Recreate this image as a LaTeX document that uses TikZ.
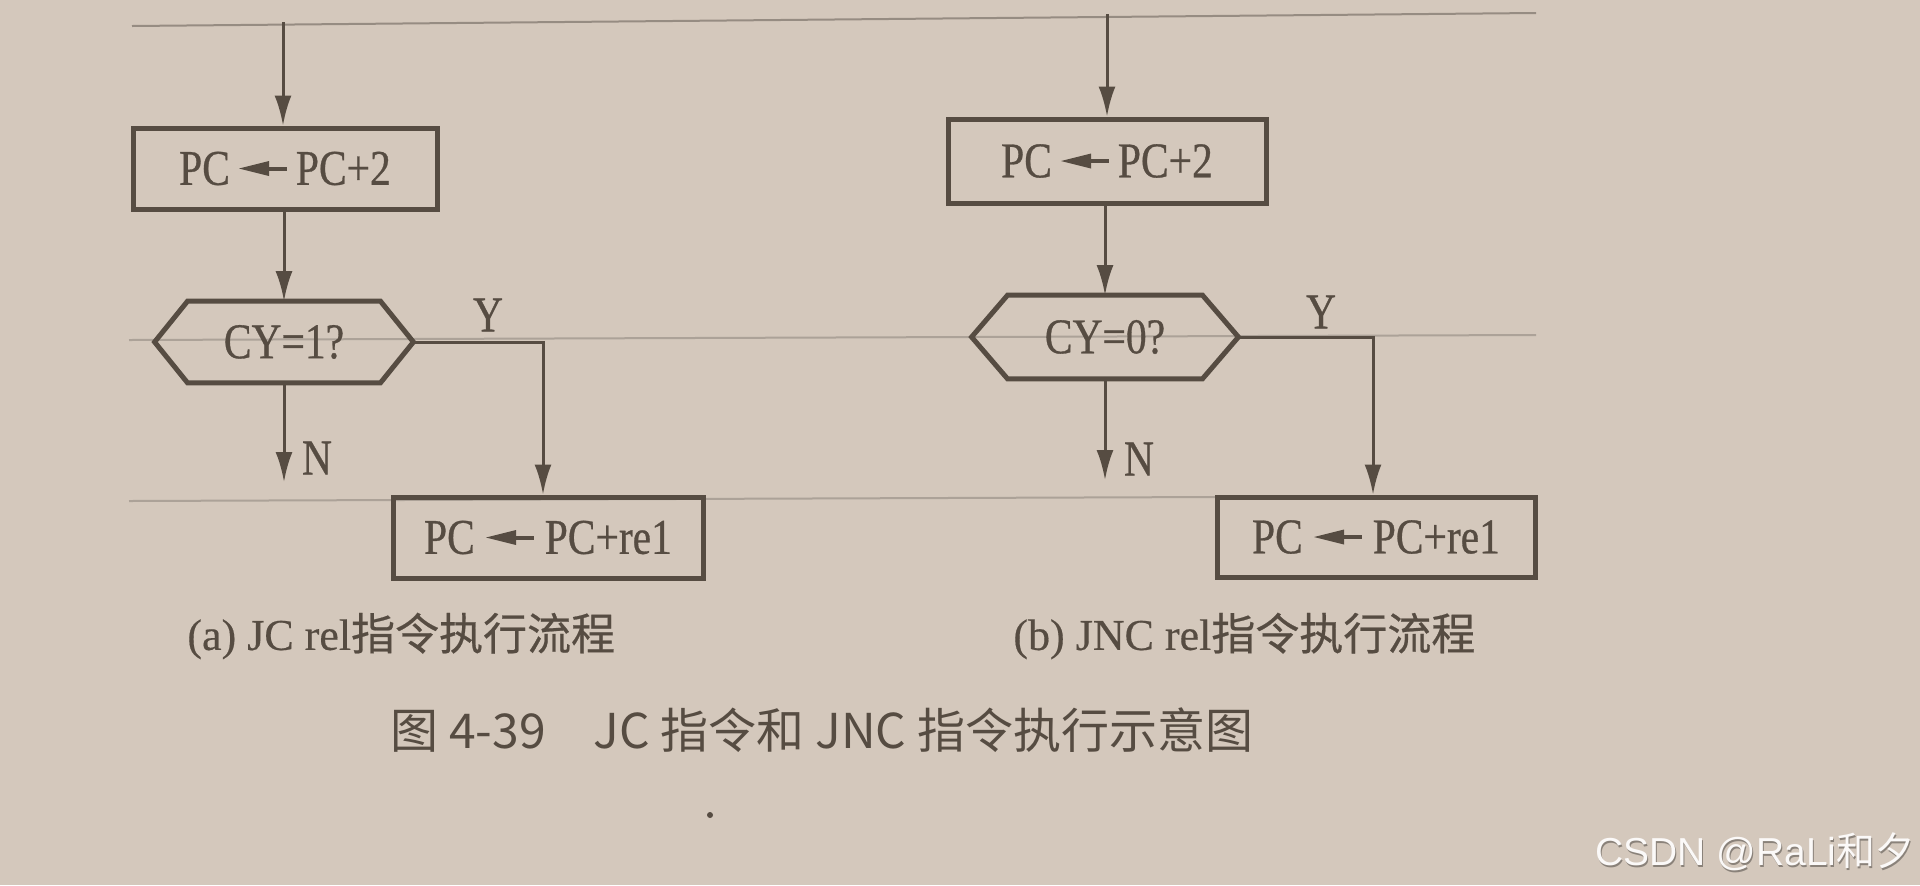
\documentclass[tikz,border=0pt]{standalone}
\usepackage{fontspec}
\setmainfont{Liberation Serif}
\newfontfamily\boxfont[FakeStretch=0.83,FakeBold=0.6]{Liberation Serif}
\newfontfamily\capfont[FakeBold=0.4]{Liberation Serif}
\newfontfamily\cjk{Noto Sans CJK SC}
\newfontfamily\cjkcap[FakeBold=0.5]{Noto Sans CJK SC}
\newfontfamily\wmfont{Liberation Sans}
\usetikzlibrary{arrows.meta,calc}
\definecolor{paper}{RGB}{212,200,188}
\definecolor{ink}{RGB}{86,76,66}
\definecolor{bleedA}{RGB}{150,140,130}
\definecolor{bleedB}{RGB}{172,162,152}
% arrow printed inside the boxes: tip at offset #2-24 from the centre of node #1
\newcommand{\pcarrow}[2]{%
  \fill[ink] ($(#1.center)+(#2-24,0)$) -- ++(30,-7.5) -- ++(0,15) -- cycle;
  \draw[ink, line width=2pt] ($(#1.center)+(#2+4,0)$) -- ++(20,0);
}
\begin{document}
\begin{tikzpicture}[x=0.5pt,y=-0.5pt,
  txt/.style={text=ink, font=\boxfont\fontsize{25}{25}\selectfont, inner sep=0pt},
  box/.style={txt, draw=ink, line width=2.5pt},
  hexline/.style={draw=ink, line width=2.5pt, line join=miter},
  conn/.style={draw=ink, line width=1.5pt},
  arr/.style={conn, -{Latex[length=15pt,width=8.5pt]}},
  captext/.style={text=ink, font=\capfont\fontsize{22}{22}\selectfont, inner sep=0pt},
  ttl/.style={text=ink, font=\cjk\fontsize{24}{24}\selectfont, inner sep=0pt},
  bleedline/.style={line width=1pt},
]
\fill[paper] (0,0) rectangle (1920,885);
\useasboundingbox (0,0) rectangle (1920,885);

% faint lines showing through the page
\draw[bleedline, draw=bleedA] (132,26) -- (1536,13);
\draw[bleedline, draw=bleedB] (129,340) -- (1536,335);
\draw[bleedline, draw=bleedB] (129,501) -- (1216,497);

% ---------- (a) ----------
\node[box, minimum width=152pt, minimum height=40.5pt] (a1) at (285,168.5) {PC\hspace{33pt}PC+2};
\pcarrow{a1}{-22}
\node[txt, minimum width=129pt, minimum height=40.5pt] (ha) at (284,342) {CY=1?};
\draw[hexline] (ha.west) -- ($(ha.north west)+(33,0)$) -- ($(ha.north east)+(-33,0)$) -- (ha.east) -- ($(ha.south east)+(-33,0)$) -- ($(ha.south west)+(33,0)$) -- cycle;
\node[box, minimum width=155pt, minimum height=40.5pt] (a2) at (548,537.5) {PC\hspace{35pt}PC+re1};
\pcarrow{a2}{-38}

\coordinate (ta) at (283,22);
\draw[arr] (ta) -- (ta |- a1.north);
\draw[arr] (ha.north |- a1.south) -- (ha.north);
\coordinate (na) at (284,482);
\draw[arr] (ha.south) -- (na);
\node[txt] (nla) at (317,458) {N};
\draw[arr] (ha.east) -| ($(a2.north)+(-5,0)$);
\node[txt] (yla) at (488,315) {Y};

% ---------- (b) ----------
\node[box, minimum width=159pt, minimum height=42pt] (b1) at (1107,161) {PC\hspace{33pt}PC+2};
\pcarrow{b1}{-22}
\node[txt, minimum width=133pt, minimum height=41.5pt] (hb) at (1105,337) {CY=0?};
\draw[hexline] (hb.west) -- ($(hb.north west)+(36,0)$) -- ($(hb.north east)+(-36,0)$) -- (hb.east) -- ($(hb.south east)+(-36,0)$) -- ($(hb.south west)+(36,0)$) -- cycle;
\node[box, minimum width=159pt, minimum height=40pt] (b2) at (1376,537) {PC\hspace{35pt}PC+re1};
\pcarrow{b2}{-38}

\coordinate (tb) at (1107,14);
\draw[arr] (tb) -- (tb |- b1.north);
\draw[arr] (hb.north |- b1.south) -- (hb.north);
\coordinate (nb) at (1105,480);
\draw[arr] (hb.south) -- (nb);
\node[txt] (nlb) at (1139,459) {N};
\draw[arr] (hb.east) -| ($(b2.north)+(-3,0)$);
\node[txt] (ylb) at (1321,312) {Y};

% ---------- captions ----------
\node[captext, anchor=west] (capa) at (187,636) {(a) JC rel{\cjkcap 指令执行流程}};
\node[captext, anchor=west] (capb) at (1013,636) {(b) JNC rel{\cjkcap 指令执行流程}};
\node[ttl, anchor=west] (title) at (390,730) {图 4-39\hspace{1em}JC 指令和 JNC 指令执行示意图};

\node[circle, fill=ink, inner sep=0pt, minimum size=3pt] (speck) at (710,815) {};

% watermark
\node[font=\wmfont\fontsize{19.5}{19.5}\selectfont, text=black!35!paper, anchor=east, inner sep=0pt] (wmshadow) at (1916,854) {CSDN @RaLi{\cjk 和夕}};
\node[font=\wmfont\fontsize{19.5}{19.5}\selectfont, text=white!90!paper, anchor=east, inner sep=0pt] (wm) at (1915,852) {CSDN @RaLi{\cjk 和夕}};
\end{tikzpicture}
\end{document}
